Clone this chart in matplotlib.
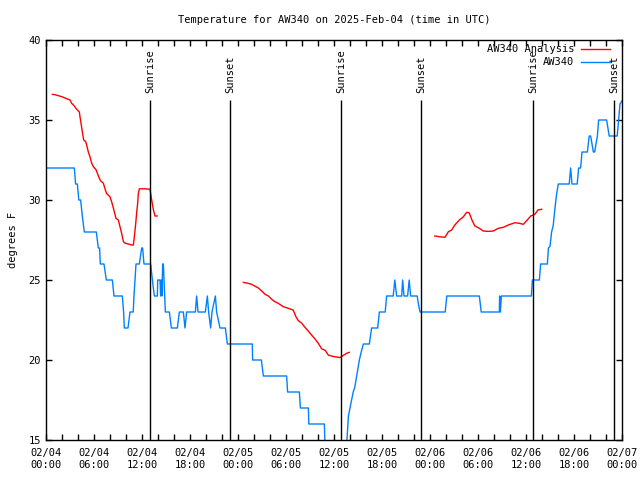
import numpy as np
import matplotlib
matplotlib.use('Agg')
import matplotlib.pyplot as plt

plt.rcParams['font.family'] = ['DejaVu Sans Mono']

# observed temperature (hours since 02/04 00:00 UTC, degrees F)
obs_h = [0.0, 3.54, 3.7, 3.92, 4.1, 4.33, 4.54, 4.79, 6.29, 6.54, 6.7, 6.79, 7.25, 7.54, 8.29, 8.5,
         9.54, 9.7, 9.79, 10.25, 10.5, 10.9, 11.0, 11.25, 11.67, 11.96, 12.08, 12.25, 13.08, 13.3,
         13.54, 13.92, 13.96, 14.25, 14.33, 14.42, 14.5, 14.58, 14.67, 14.75, 14.92, 15.42, 15.67,
         16.42, 16.67, 17.17, 17.375, 17.58, 18.67, 18.83, 19.0, 19.92, 20.17, 20.33, 20.58, 20.75,
         21.17, 21.33, 21.75, 22.42, 22.67, 25.79, 25.83, 26.92, 27.17, 30.08, 30.2, 31.67, 31.8,
         32.8, 32.85, 34.8, 34.9, 37.5, 37.67, 37.8, 38.0, 38.2, 38.4, 38.6, 38.83, 39.17, 39.4,
         39.67, 40.42, 40.7, 41.46, 41.67, 42.4, 42.58, 43.4, 43.6, 43.83, 44.46, 44.58, 44.75,
         45.2, 45.4, 45.58, 46.4, 46.55, 46.75, 49.9, 50.1, 54.17, 54.4, 56.67, 56.7, 56.8, 56.92,
         60.67, 60.8, 61.67, 61.83, 62.67, 62.8, 63.0, 63.2, 63.4, 63.6, 63.83, 64.04, 65.4, 65.58,
         65.75, 66.4, 66.58, 66.83, 67.0, 67.67, 67.9, 68.08, 68.25, 68.42, 68.58, 68.75, 68.92,
         69.08, 70.08, 70.4, 71.4, 71.58, 71.75, 72.0]
obs_t = [32, 32, 31, 31, 30, 30, 29, 28, 28, 27, 27, 26, 26, 25, 25, 24,
         24, 23, 22, 22, 23, 23, 24, 26, 26, 27, 27, 26, 26, 25,
         24, 24, 25, 25, 24, 25, 24, 26, 26, 25, 23, 23, 22,
         22, 23, 23, 22, 23, 23, 24, 23, 23, 24, 23, 22, 23,
         24, 23, 22, 22, 21, 21, 20, 20, 19, 19, 18, 18, 17,
         17, 16, 16, 14, 14, 15.4, 16.5, 17, 17.5, 18, 18.3, 19, 20, 20.5,
         21, 21, 22, 22, 23, 23, 24, 24, 25, 24, 24, 25, 24,
         24, 25, 24, 24, 23.5, 23, 23, 24, 24, 23, 23, 24, 23, 24,
         24, 25, 25, 26, 26, 27, 27.1, 28, 28.4, 29.4, 30.4, 31, 31, 32,
         31, 31, 32, 32, 33, 33, 34, 34, 33.5, 33, 33, 33.5, 34,
         35, 35, 34, 34, 35, 36, 36.2]

# analysis temperature (gaps as nan)
ana_h = [0.79, 1.13, 1.54, 1.96, 2.5, 3.0, 3.21, 3.5, 3.83, 4.17, 4.25, 4.375, 4.54, 4.71, 4.96,
         5.08, 5.29, 5.5, 5.71, 5.92, 6.25, 6.42, 6.67, 6.83, 7.17, 7.375, 7.58, 8.0, 8.2, 8.42,
         8.75, 9.04, 9.25, 9.46, 9.67, 9.875, 10.29, 10.7, 10.92, 11.04, 11.21, 11.33, 11.46,
         11.54, 11.67, 12.375, 13.0, 13.21, 13.42, 13.625, 13.9, np.nan,
         24.67, 25.2, 25.7, 26.1, 26.54, 27.0, 27.4, 27.8, 28.2, 28.6, 29.04, 29.67, 30.29, 30.9,
         31.25, 31.54, 31.96, 32.375, 32.8, 33.2, 33.6, 34.04, 34.46, 34.9, 35.3, 35.7, 36.1,
         36.75, 37.2, 37.58, 37.9, np.nan,
         48.6, 49.25, 49.875, 50.3, 50.7, 51.1, 51.67, 52.17, 52.58, 52.9, 53.2, 53.6, 54.17,
         54.67, 55.3, 55.9, 56.54, 57.2, 57.8, 58.6, 59.1, 59.67, 60.08, 60.6, 61.1, 61.5, 61.96]
ana_t = [36.6, 36.58, 36.52, 36.46, 36.35, 36.25, 36.04, 35.9, 35.67, 35.5, 35.2, 34.8, 34.27, 33.75, 33.65,
         33.44, 33.0, 32.7, 32.3, 32.08, 31.9, 31.67, 31.35, 31.2, 31.05, 30.7, 30.4, 30.2, 29.9, 29.5,
         28.85, 28.75, 28.33, 27.9, 27.4, 27.3, 27.25, 27.19, 27.19, 27.7, 28.5, 29.2, 29.8,
         30.4, 30.7, 30.7, 30.67, 30.0, 29.4, 29.0, 29.0, np.nan,
         24.85, 24.8, 24.73, 24.62, 24.5, 24.3, 24.1, 24.0, 23.8, 23.65, 23.54, 23.33, 23.23, 23.12,
         22.7, 22.46, 22.3, 22.04, 21.8, 21.56, 21.33, 21.04, 20.7, 20.6, 20.3, 20.25, 20.2,
         20.15, 20.3, 20.42, 20.48, np.nan,
         27.75, 27.7, 27.67, 28.02, 28.12, 28.44, 28.75, 28.95, 29.23, 29.2, 28.8, 28.38, 28.23,
         28.06, 28.04, 28.06, 28.23, 28.3, 28.44, 28.58, 28.55, 28.48, 28.71, 29.0, 29.1, 29.38, 29.42]

sun_h = [13.0, 23.0, 36.9, 46.9, 60.9, 71.0]
sun_lbl = ['Sunrise', 'Sunset', 'Sunrise', 'Sunset', 'Sunrise', 'Sunset']

xtick_h = [0, 6, 12, 18, 24, 30, 36, 42, 48, 54, 60, 66, 72]
xtick_lbl = ['02/04\n00:00', '02/04\n06:00', '02/04\n12:00', '02/04\n18:00',
             '02/05\n00:00', '02/05\n06:00', '02/05\n12:00', '02/05\n18:00',
             '02/06\n00:00', '02/06\n06:00', '02/06\n12:00', '02/06\n18:00',
             '02/07\n00:00']

red = '#ff0000'
blue = '#0080ff'
fs = 7.5

fig = plt.figure(figsize=(6.4, 4.8), dpi=100)
ax = fig.add_axes([46/640, 40/480, 576/640, 400/480])

ax.plot(ana_h, ana_t, color=red, lw=1)
ax.plot(obs_h, obs_t, color=blue, lw=1)

ax.vlines(sun_h, 15, 36.25, color='black', lw=1)
for h, s in zip(sun_h, sun_lbl):
    ax.text(h, 36.7, s, rotation=90, ha='center', va='bottom', fontsize=fs)

ax.set_xlim(0, 72)
ax.set_ylim(15, 40)
ax.set_xticks(xtick_h)
ax.set_xticklabels(xtick_lbl, fontsize=fs)
ax.set_xticks(np.arange(0, 73, 2), minor=True)
ax.set_yticks([15, 20, 25, 30, 35, 40])
ax.set_yticklabels(['15', '20', '25', '30', '35', '40'], fontsize=fs)
ax.tick_params(which='both', direction='in', top=True, right=True, length=4, width=1)
ax.tick_params(axis='x', pad=6)
for sp in ax.spines.values():
    sp.set_linewidth(1)

ax.set_ylabel('degrees F', fontsize=fs, labelpad=8)
ax.set_title('Temperature for AW340 on 2025-Feb-04 (time in UTC)', fontsize=fs, pad=12)

# legend drawn by hand, gnuplot style
ax.text(0.917, 0.977, 'AW340 Analysis', transform=ax.transAxes, ha='right', va='center', fontsize=fs)
ax.plot([0.929, 0.979], [0.977, 0.977], transform=ax.transAxes, color=red, lw=1)
ax.text(0.917, 0.944, 'AW340', transform=ax.transAxes, ha='right', va='center', fontsize=fs)
ax.plot([0.929, 0.979], [0.944, 0.944], transform=ax.transAxes, color=blue, lw=1)

fig.savefig('out.png', dpi=100)
